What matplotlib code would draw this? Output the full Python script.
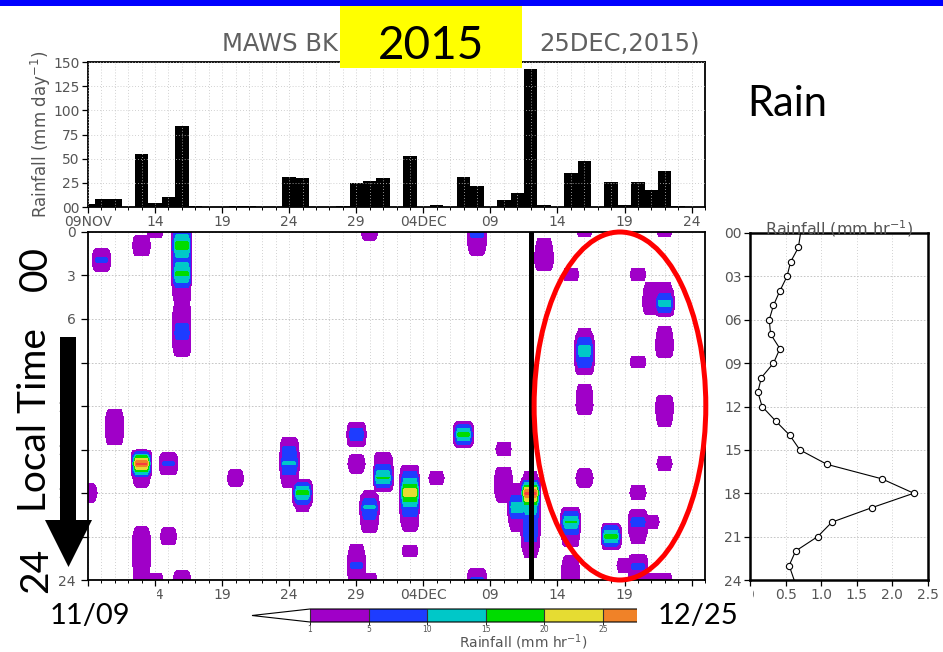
import numpy as np
import matplotlib
matplotlib.use("Agg")
import matplotlib.pyplot as plt
from matplotlib.colors import ListedColormap, BoundaryNorm
from matplotlib.patches import Ellipse, Rectangle, Polygon
from matplotlib.ticker import MultipleLocator

W, H, DPI = 943, 652, 100

# ---------------------------------------------------------------- data
# day index 0 = 09 NOV 2015 ... 46 = 25 DEC 2015
n_days = 47
day_ticks = [0, 5, 10, 15, 20, 25, 30, 35, 40, 45]
day_tick_labels = ["09NOV", "14", "19", "24", "29", "04DEC", "09", "14", "19", "24"]

# daily rainfall total (mm/day)
daily_rain = [3.5, 8, 8, 0, 55, 4, 10, 84, 1.5, 0.5,
              0.5, 1.5, 1.5, 0, 0, 31, 29.5, 0, 0, 1.5,
              25, 26.5, 30.5, 0, 53, 0, 2.5, 0, 31, 22,
              0, 7.5, 14, 143, 2.5, 0, 35, 47.5, 0, 26,
              2.5, 26, 17.5, 37, 1.5, 0, 0]

# hourly rain rate (mm/hr) by day index and local hour
rain_day = [1, 4, 5, 4, 4, 4, 4, 4, 4, 5,
            6, 6, 7, 7, 7, 7, 7, 7, 7, 7,
            7, 7, 0, 2, 2, 11, 15, 15, 15, 16,
            16, 20, 20, 20, 20, 20, 21, 21, 21, 21,
            21, 22, 22, 24, 24, 24, 24, 24, 26, 28,
            29, 29, 29, 31, 31, 31, 32, 32, 32, 33,
            33, 33, 33, 33, 33, 34, 34, 36, 36, 36,
            36, 36, 36, 37, 37, 37, 37, 37, 37, 37,
            39, 40, 41, 41, 41, 41, 41, 41, 41, 42,
            42, 42, 42, 43, 43, 43, 43, 43, 43, 43,
            43, 43]
rain_hour = [2, 1, 0, 16, 17, 21, 22, 23, 24, 24,
             16, 21, 0, 1, 2, 3, 4, 5, 6, 7,
             8, 24, 18, 13, 14, 17, 15, 16, 17, 18,
             19, 14, 16, 22, 23, 24, 0, 18, 19, 20,
             24, 16, 17, 17, 18, 19, 20, 22, 17, 14,
             0, 1, 24, 15, 17, 18, 18, 19, 20, 17,
             18, 19, 20, 21, 22, 1, 2, 3, 19, 20,
             21, 23, 24, 0, 7, 8, 9, 11, 12, 17,
             21, 23, 3, 9, 18, 20, 21, 23, 24, 4,
             5, 20, 24, 0, 4, 5, 7, 8, 12, 13,
             16, 24]
rain_rate = [6, 4, 2, 32, 3, 3, 3, 3, 2, 2,
             6, 2.5, 8, 18, 9, 17, 4, 1.3, 4, 7,
             3, 3, 3, 4, 4, 2.5, 6, 11, 3, 18,
             1.5, 9, 3, 2, 6, 2, 3, 1.2, 11, 4,
             2, 5, 16, 10, 24, 10, 3, 1.8, 2, 18,
             7, 3, 6, 2, 4, 3, 3, 14, 3, 2,
             32, 12, 8, 7, 2, 2, 4, 1.8, 1, 16,
             4, 3, 3, 1.8, 1.5, 12, 9, 2, 3, 3,
             18, 2, 1.8, 1.8, 2, 7, 2, 6, 3, 2,
             4, 2, 2, 1.8, 2, 13, 2, 4, 4, 2,
             2, 2]

# mean diurnal cycle of rain rate (mm/hr), 00..24 LT
profile_hour = list(range(25))
profile_rate = [0.71, 0.68, 0.57, 0.52, 0.42, 0.33, 0.27, 0.29, 0.42, 0.33,
                0.16, 0.11, 0.17, 0.36, 0.56, 0.70, 1.08, 1.85, 2.30, 1.71,
                1.15, 0.95, 0.64, 0.55, 0.62]

rate_levels = [1, 5, 10, 15, 20, 25, 30, 60]
rate_colors = ["#a000c8", "#1e3cff", "#00c8c8", "#00dc00",
               "#e6dc32", "#f08228", "#fa3c3c"]

# ---------------------------------------------------------------- layout
GRAY = "#555555"
fig = plt.figure(figsize=(W / DPI, H / DPI), dpi=DPI)


def box(x0, y0, x1, y1):
    return [x0 / W, 1 - y1 / H, (x1 - x0) / W, (y1 - y0) / H]


def fpt(x, y):
    return (x / W, 1 - y / H)


ax_bar = fig.add_axes(box(88, 62, 705, 207))
ax_map = fig.add_axes(box(88, 232, 705, 580))
ax_pro = fig.add_axes(box(750, 233, 928, 580))
cax = fig.add_axes(box(252, 609, 720, 622))


def style(ax):
    for s in ax.spines.values():
        s.set_linewidth(1.3)
        s.set_color("black")
    ax.tick_params(which="major", direction="out", length=4, width=0.9,
                   labelsize=10, labelcolor=GRAY, pad=2)
    ax.tick_params(which="minor", direction="out", length=2.5, width=0.7)


grid_kw = dict(color="#c2c2c2", linestyle=(0, (1, 2.5)), linewidth=0.6)

# ---------------------------------------------------------------- daily bars
days = np.arange(n_days)
ax_bar.bar(days, daily_rain, width=1.0, color="black", zorder=2)
ax_bar.set_xlim(0, 46)
ax_bar.set_ylim(0, 150)
ax_bar.set_yticks(range(0, 151, 25))
ax_bar.set_yticklabels(["00", "25", "50", "75", "100", "125", "150"])
ax_bar.set_xticks(day_ticks)
ax_bar.set_xticklabels(day_tick_labels)
ax_bar.xaxis.set_minor_locator(MultipleLocator(1))
ax_bar.set_axisbelow(False)
ax_bar.grid(True, which="both", axis="x", **grid_kw)
ax_bar.grid(True, which="major", axis="y", **grid_kw)
style(ax_bar)
ax_bar.set_ylabel("Rainfall (mm day$^{-1}$)", fontsize=12, color=GRAY, labelpad=0)

# ---------------------------------------------------------------- time-of-day map
grid = np.zeros((25, n_days))
for d, h, v in zip(rain_day, rain_hour, rain_rate):
    grid[h, d] = v

# each daily column is shaded as a block about one and a half days wide,
# with linear shading between hourly values
nx, ny = 46 * 14, 24 * 16
xc = (np.arange(nx) + 0.5) * 46 / nx
yc = (np.arange(ny) + 0.5) * 24 / ny
field = np.zeros((ny, nx))
for d in range(n_days):
    col = np.interp(yc, np.arange(25), grid[:, d])
    wgt = np.clip((0.8 - np.abs(xc - d)) / 0.35, 0, 1)
    field = np.maximum(field, col[:, None] * wgt[None, :])

cmap = ListedColormap(rate_colors)
cmap.set_under((1, 1, 1, 0))
cmap.set_over(rate_colors[-1])
norm = BoundaryNorm(rate_levels, cmap.N)
ax_map.imshow(field, extent=(0, 46, 24, 0), cmap=cmap, norm=norm,
              aspect="auto", interpolation="nearest", zorder=1)
ax_map.set_xlim(0, 46)
ax_map.set_ylim(24, 0)
ax_map.set_xticks(day_ticks)
ax_map.set_xticklabels(day_tick_labels)
ax_map.xaxis.set_minor_locator(MultipleLocator(1))
ax_map.set_yticks(range(0, 25, 3))
ax_map.set_yticklabels([str(h) for h in range(0, 25, 3)])
ax_map.set_axisbelow(True)
ax_map.grid(True, which="both", axis="x", **grid_kw)
ax_map.grid(True, which="major", axis="y", color="#bdbdbd",
            linestyle=(0, (2, 2)), linewidth=0.6)
style(ax_map)
ax_map.tick_params(axis="y", which="major", length=5, pad=4)

# 12 DEC marker and highlighted period
ax_map.axvline(33, color="black", lw=3.6, zorder=4)
ax_map.add_patch(Ellipse((39.66, 12.0), 12.8, 24.0, fill=False,
                         edgecolor="#ff0000", lw=3.6, clip_on=False, zorder=5))

# ---------------------------------------------------------------- diurnal profile
ax_pro.plot(profile_rate, profile_hour, color="black", lw=0.8, marker="o",
            ms=4.5, mfc="white", mec="black", mew=0.8,
            markevery=slice(1, 24), zorder=3)
ax_pro.set_xlim(0, 2.5)
ax_pro.set_ylim(24, 0)
ax_pro.set_xticks([0, 0.5, 1.0, 1.5, 2.0, 2.5])
ax_pro.set_xticklabels(["0", "0.5", "1.0", "1.5", "2.0", "2.5"])
ax_pro.set_yticks(range(0, 25, 3))
ax_pro.set_yticklabels(["%02d" % h for h in range(0, 25, 3)])
ax_pro.set_axisbelow(True)
ax_pro.grid(True, axis="x", **grid_kw)
ax_pro.grid(True, axis="y", color="#bdbdbd", linestyle=(0, (2, 2)), linewidth=0.6)
style(ax_pro)
for s in ax_pro.spines.values():
    s.set_linewidth(1.8)
ax_pro.text(0.5, 1.012, "Rainfall (mm hr$^{-1}$)", transform=ax_pro.transAxes,
            ha="center", va="center", fontsize=11.5, color=GRAY)

# ---------------------------------------------------------------- colour bar
cb_cmap = ListedColormap(rate_colors)
cb_cmap.set_under("white")
sm = plt.cm.ScalarMappable(norm=BoundaryNorm(rate_levels, cb_cmap.N), cmap=cb_cmap)
cb = fig.colorbar(sm, cax=cax, orientation="horizontal", extend="min",
                  extendfrac=0.1415, ticks=[1, 5, 10, 15, 20, 25], drawedges=True)
cb.outline.set_linewidth(0.8)
cb.dividers.set_linewidth(0.8)
cb.dividers.set_color("#333333")
cax.tick_params(length=2, width=0.6, labelsize=5.5, labelcolor=GRAY, pad=0.5)
cb.set_label("Rainfall (mm hr$^{-1}$)", fontsize=10, color=GRAY)
cax.xaxis.set_label_coords(0.52, -0.82)

# ---------------------------------------------------------------- annotations
fig.patches.append(Rectangle(fpt(0, 6), 1, 6 / H, transform=fig.transFigure,
                             facecolor="#0000ff", edgecolor="none", zorder=2))
fig.text(222 / W, 1 - 43 / H, "MAWS BKK (09NOV-", ha="left", va="center",
         fontsize=17.5, color="#606060", zorder=3)
fig.text(700 / W, 1 - 43 / H, "25DEC,2015)", ha="right", va="center",
         fontsize=17.5, color="#606060", zorder=3)
fig.patches.append(Rectangle(fpt(340, 68), 182 / W, 62 / H, transform=fig.transFigure,
                             facecolor="#ffff00", edgecolor="none", zorder=4))
fig.text(431 / W, 1 - 46 / H, "2015", ha="center", va="center", fontsize=33,
         family="Lato", color="black", zorder=5)
fig.text(747 / W, 1 - 104 / H, "Rain", ha="left", va="center", fontsize=30,
         family="Lato", color="black", zorder=5)

big = dict(rotation=90, ha="center", va="center", fontsize=28, family="Lato",
           color="black", zorder=5)
fig.text(36 / W, 1 - 269 / H, "00", **big)
fig.text(35 / W, 1 - 420 / H, "Local Time", **big)
fig.text(36 / W, 1 - 570 / H, "24", **big)

arrow_px = [(60, 337), (76, 337), (76, 520), (92, 520), (68.5, 567), (45, 520), (60, 520)]
fig.patches.append(Polygon([fpt(x, y) for x, y in arrow_px], closed=True,
                           transform=fig.transFigure, facecolor="black",
                           edgecolor="none", zorder=5))

fig.patches.append(Rectangle(fpt(40, 652), 117 / W, 64 / H, transform=fig.transFigure,
                             facecolor="white", edgecolor="none", zorder=4))
fig.patches.append(Rectangle(fpt(637, 652), 116 / W, 64 / H, transform=fig.transFigure,
                             facecolor="white", edgecolor="none", zorder=4))
fig.text(90 / W, 1 - 616 / H, "11/09", ha="center", va="center", fontsize=21,
         family="Lato", color="black", zorder=5)
fig.text(698 / W, 1 - 616 / H, "12/25", ha="center", va="center", fontsize=21,
         family="Lato", color="black", zorder=5)

fig.savefig("out.png", dpi=DPI)
